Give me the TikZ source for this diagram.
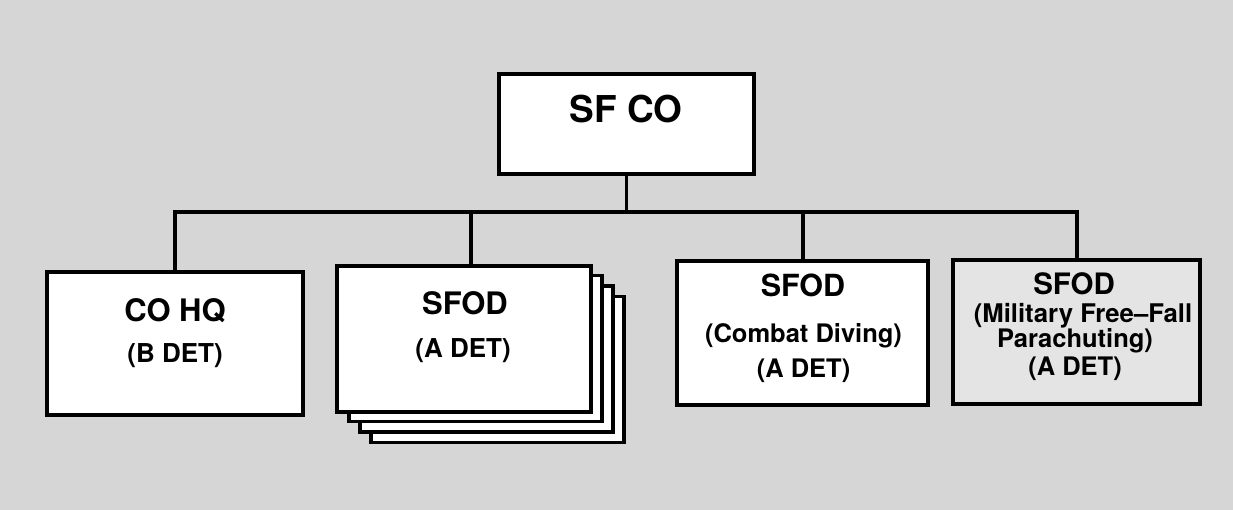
\documentclass[tikz,border=0pt]{standalone}
\usepackage{fontspec}
\setmainfont{TeX Gyre Heros}
\definecolor{bgc}{RGB}{214,214,214}
\definecolor{mffc}{RGB}{228,228,228}
\begin{document}
\begin{tikzpicture}[x=1pt,y=-1pt,
  box/.style={draw=black,line width=3.4pt,fill=white,inner sep=0pt,outer sep=0pt},
  lbl/.style={inner sep=0pt,outer sep=0pt,anchor=base},
  conn/.style={draw=black,line width=3.2pt}]
\fill[bgc] (0,0) rectangle (1233,510);
\useasboundingbox (0,0) rectangle (1233,510);
% boxes
\node[box,minimum width=255pt,minimum height=100pt] (sfco) at (626.5,124) {};
\node[box,minimum width=256pt,minimum height=143pt] (cohq) at (175,343.5) {};
\node[box,minimum width=253pt,minimum height=146pt] (st4) at (497.5,369.5) {};
\node[box,minimum width=253pt,minimum height=146pt] (st3) at (486.5,359) {};
\node[box,minimum width=253pt,minimum height=146pt] (st2) at (475.5,348.5) {};
\node[box,minimum width=254pt,minimum height=146pt] (st1) at (464,339) {};
\node[box,minimum width=251pt,minimum height=144pt] (cd) at (802.5,333) {};
\node[box,fill=mffc,minimum width=247pt,minimum height=144pt] (mff) at (1076.5,332) {};
% connector points
\coordinate (bus) at (626.5,212);
\coordinate (b1) at (175,212);
\coordinate (b2) at (471,212);
\coordinate (b3) at (803,212);
\coordinate (b4) at (1077,212);
\draw[conn] (sfco.south) -- (bus);
\draw[conn,line cap=rect] (b1) -- (b4);
\draw[conn] (b1) -- (b1 |- cohq.north);
\draw[conn] (b2) -- (b2 |- st1.north);
\draw[conn] (b3) -- (b3 |- cd.north);
\draw[conn] (b4) -- (b4 |- mff.north);
% labels
\node[lbl,font=\bfseries\fontsize{37}{40}\selectfont] (t0) at (626,123) {SF CO};
\node[lbl,font=\bfseries\fontsize{31}{34}\selectfont] (t1a) at (175,322) {CO HQ};
\node[lbl,font=\bfseries\fontsize{26}{28}\selectfont] (t1b) at (175,362) {(B DET)};
\node[lbl,font=\bfseries\fontsize{31}{34}\selectfont] (t2a) at (465,315) {SFOD};
\node[lbl,font=\bfseries\fontsize{26}{28}\selectfont] (t2b) at (463,357) {(A DET)};
\node[lbl,font=\bfseries\fontsize{30.5}{33}\selectfont] (t3a) at (803,297) {SFOD};
\node[lbl,font=\bfseries\fontsize{25.5}{28}\selectfont] (t3b) at (803.5,342) {(Combat Diving)};
\node[lbl,font=\bfseries\fontsize{25.5}{28}\selectfont] (t3c) at (803.5,377) {(A DET)};
\node[lbl,font=\bfseries\fontsize{29.5}{32}\selectfont] (t4a) at (1074,295) {SFOD};
\node[lbl,font=\bfseries\fontsize{25.7}{27}\selectfont] (t4b) at (1083,323) {(Military Free--Fall};
\node[lbl,font=\bfseries\fontsize{25.5}{27}\selectfont] (t4c) at (1075,347) {Parachuting)};
\node[lbl,font=\bfseries\fontsize{25.5}{27}\selectfont] (t4d) at (1075,375) {(A DET)};
\end{tikzpicture}
\end{document}
